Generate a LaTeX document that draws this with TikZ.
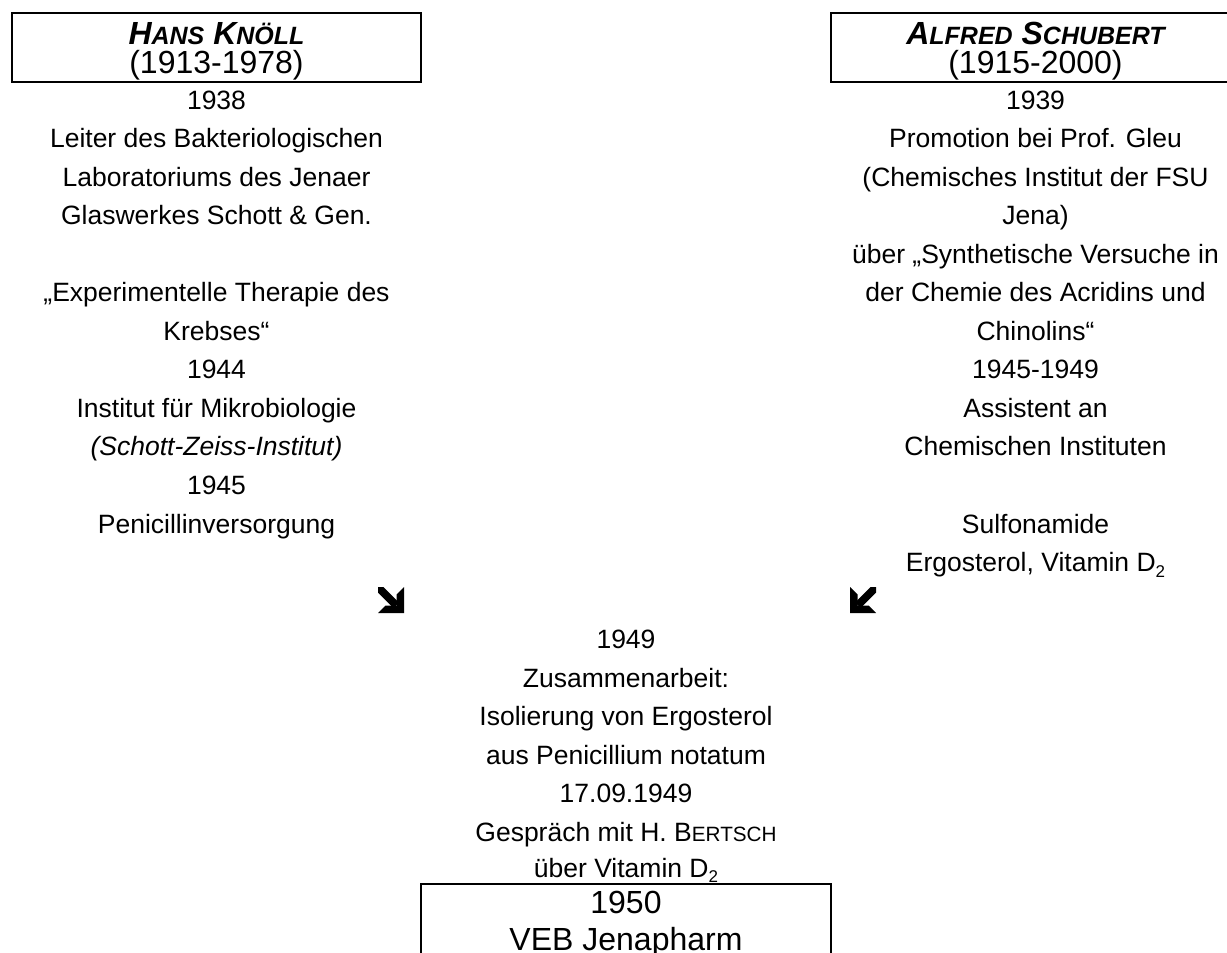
\documentclass[tikz,border=0pt]{standalone}
\usepackage{fontspec}
\setmainfont{Liberation Sans}
\newcommand\bodyfont{\fontsize{26.5}{30}\selectfont}
\newcommand\bigfont{\fontsize{32}{36}\selectfont}
\newcommand\scA[1]{{\fontsize{25}{28}\selectfont #1}}
\newcommand\scB[1]{{\fontsize{20.7}{24}\selectfont #1}}
\newcommand\subtwo{\raisebox{-0.22em}{\fontsize{17}{20}\selectfont 2}}
\tikzset{
  body/.style={font=\bodyfont, inner sep=0pt, anchor=base},
  title/.style={font=\bigfont, inner sep=0pt, anchor=base},
  frame/.style={draw, line width=2.2pt, inner sep=0pt},
  arrowDR/.pic={
    \fill (26,0) -- (26,26) -- (0,26) -- (7.5,18.5) -- (18.5,18.5) -- (18.5,7.5) -- cycle;
    \fill (0,0) -- (5.5,0) -- (21,15.5) -- (15.5,21) -- (0,5.5) -- cycle;
  }
}
\begin{document}
\begin{tikzpicture}[x=1pt,y=-1pt]
\useasboundingbox (0,0) rectangle (1227,953);
\clip (0,0) rectangle (1227,953);
\fill[white] (0,0) rectangle (1227,953);
% boxes
\node[frame, minimum width=409pt, minimum height=69pt] (boxL) at (216.5,47.5) {};
\node[frame, minimum width=449pt, minimum height=69pt] (boxR) at (1055.5,47.5) {};
\node[frame, minimum width=410pt, minimum height=120pt] (boxB) at (626,944) {};
% titles
\node[title, font=\bigfont\bfseries\itshape] (tL) at (216.5,45) {H\scA{ANS} K\scA{NÖLL}};
\node[title] (yL) at (216.5,73) {(1913-1978)};
\node[title, font=\bigfont\bfseries\itshape] (tR) at (1035.5,45) {A\scA{LFRED} S\scA{CHUBERT}};
\node[title] (yR) at (1035.5,73) {(1915-2000)};
% left column
\foreach \k/\t in {0/1938, 1/Leiter des Bakteriologischen, 2/Laboratoriums des Jenaer,
  3/Glaswerkes Schott \& Gen., 5/„Experimentelle Therapie des, 6/Krebses“, 7/1944,
  8/Institut für Mikrobiologie, 9/\textit{(Schott-Zeiss-Institut)}, 10/1945, 11/Penicillinversorgung}
  \node[body] (L\k) at (216.5,{109+38.55*\k}) {\t};
% right column
\foreach \k/\t in {0/1939, 1/Promotion bei Prof. Gleu, 2/(Chemisches Institut der FSU,
  3/Jena), 4/über „Synthetische Versuche in, 5/der Chemie des Acridins und, 6/Chinolins“,
  7/1945-1949, 8/Assistent an, 9/Chemischen Instituten, 11/Sulfonamide,
  12/{Ergosterol, Vitamin D\subtwo}}
  \node[body] (R\k) at (1035.5,{109+38.55*\k}) {\t};
% arrows
\pic (arL) at (378,587) {arrowDR};
\pic[xscale=-1] (arR) at (876,587) {arrowDR};
% center column
\foreach \k/\t in {14/1949, 15/Zusammenarbeit:, 16/Isolierung von Ergosterol,
  17/aus Penicillium notatum, 18/17.09.1949, 19/Gespräch mit H. B\scB{ERTSCH}}
  \node[body] (C\k) at (626,{109+38.55*\k}) {\t};
\node[body] (C20) at (626,877) {über Vitamin D\subtwo};
% bottom box text
\node[title] (b1) at (626,913) {1950};
\node[title] (b2) at (626,950) {VEB Jenapharm};
\end{tikzpicture}
\end{document}
